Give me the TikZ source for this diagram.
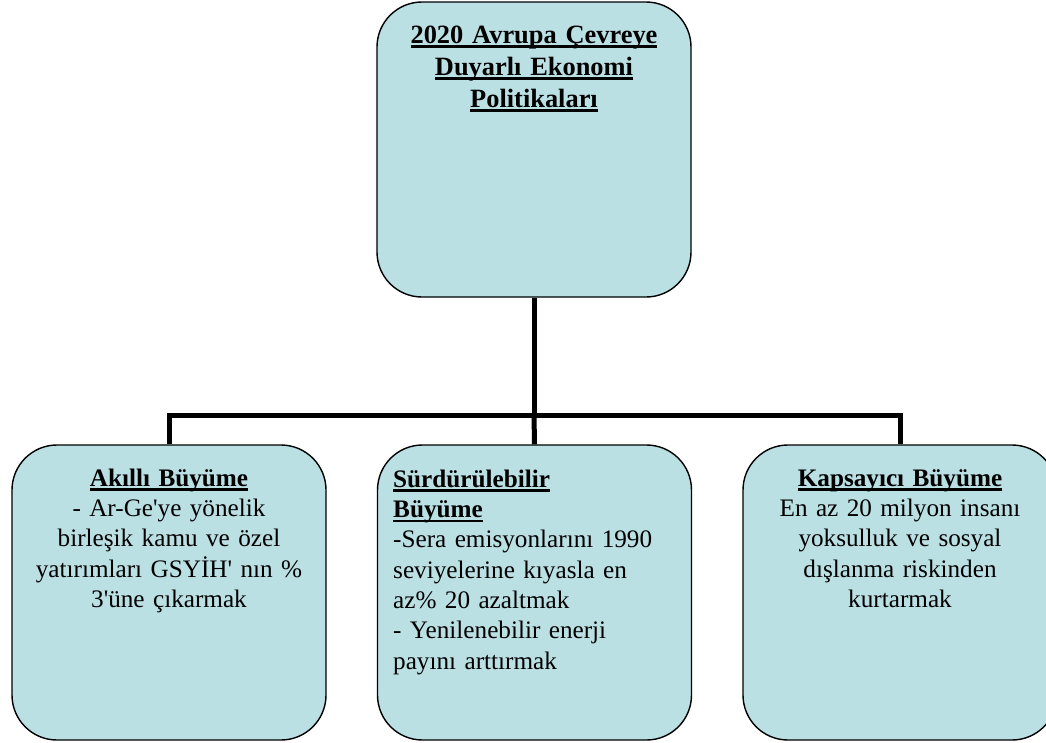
\documentclass[tikz,border=0pt]{standalone}
\usepackage{fontspec}
\setmainfont{Liberation Serif}
\definecolor{boxfill}{RGB}{187,224,228}
\tikzset{
  box/.style={draw=black, line width=1.4pt, fill=boxfill, rounded corners=45pt,
    minimum width=314pt, minimum height=295pt, inner sep=0pt},
  txt/.style={font=\fontsize{25.2}{30.3}\selectfont, inner sep=0pt, align=center, text width=305pt},
  ttl/.style={font=\fontsize{26.4}{32}\selectfont, inner sep=0pt, align=center, text width=305pt},
  conn/.style={line width=5pt, line join=miter, draw=black}
}
\newcommand\hdr[1]{\leavevmode\vtop{\hbox{\raisebox{0pt}[\height][0pt]{\textbf{#1}}}\kern2.2pt\hrule height 2.4pt}}
\newcommand\fst{\rule{0pt}{22pt}}
\begin{document}
\begin{tikzpicture}[x=1pt,y=-1pt]
\useasboundingbox (0,0) rectangle (1046,742);
\clip (0,0) rectangle (1046,742);
\coordinate (hub) at (534,415);
\node[box] (top) at (534,149.5) {};
\node[box] (left) at (169,592.5) {};
\node[box] (mid) at (534.5,592.5) {};
\node[box] (right) at (900,592.5) {};
\draw[conn] (top.south) -- (hub);
\draw[conn] (left.north) |- (hub) -| (right.north);
\draw[conn] (hub) -- (mid.north);
\node[ttl, anchor=north] (toptxt) at (534,21) {\fst\hdr{2020 Avrupa Çevreye}\\ \hdr{Duyarlı Ekonomi}\\ \hdr{Politikaları}};
\node[txt, anchor=north] (lefttxt) at (169,464) {\fst\hdr{Akıllı Büyüme}\\- Ar-Ge\textquotesingle ye yönelik\\birleşik kamu ve özel\\yatırımları GSYİH\textquotesingle{} nın \%\\3\textquotesingle üne çıkarmak};
\node[txt, anchor=north west, align=left, text width=295pt] (midtxt) at (393,465) {\fst\hdr{Sürdürülebilir}\\ \hdr{Büyüme}\\-Sera emisyonlarını 1990\\seviyelerine kıyasla en\\az\% 20 azaltmak\\- Yenilenebilir enerji\\payını arttırmak};
\node[txt, anchor=north] (righttxt) at (900,464) {\fst\hdr{Kapsayıcı Büyüme}\\En az 20 milyon insanı\\yoksulluk ve sosyal\\dışlanma riskinden\\kurtarmak};
\end{tikzpicture}
\end{document}
